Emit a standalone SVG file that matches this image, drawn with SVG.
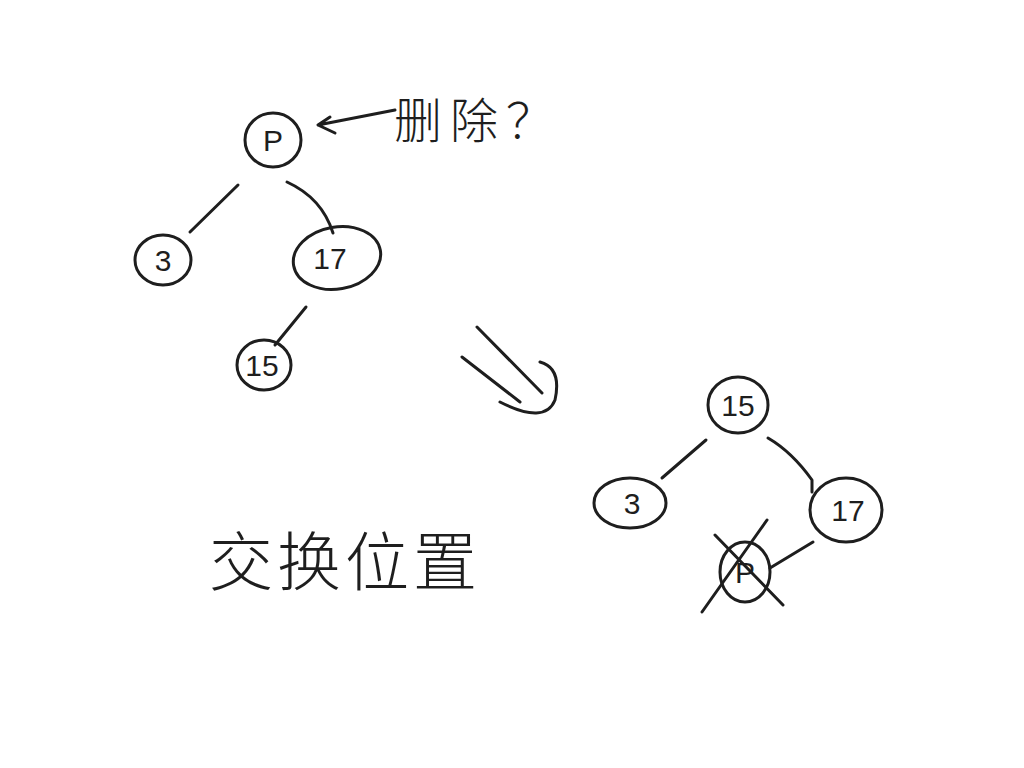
<svg xmlns="http://www.w3.org/2000/svg" width="1024" height="768" viewBox="0 0 1024 768">
<style>
.s{fill:none;stroke:#1e1e1e;stroke-width:3;stroke-linecap:round;stroke-linejoin:round}
.t{font-family:"Liberation Sans","Noto Sans CJK SC",sans-serif;fill:#1e1e1e;text-anchor:middle}
.n{font-size:30px;font-weight:300}
</style>
<rect width="1024" height="768" fill="#fff"/>
<g id="connectors">
<path class="s" d="M238,185 L190,232"/>
<path class="s" d="M287,182 Q322,198 333,233"/>
<path class="s" d="M306,307 L275,345"/>
<path class="s" d="M706,440 L662,478"/>
<path class="s" d="M768,438 Q792,452 812,480 L812,492"/>
<path class="s" d="M813,542 L770,568"/>
<path class="s" d="M395,110 L318,125 M330,117 L318,125 L335,133" stroke-width="2.5"/>
<path class="s" d="M477,327 L542,393 M462,357 L520,402 M540,362 Q562,368 555,400 Q545,425 500,402"/>
</g>
<g id="nodeP"><ellipse class="s" cx="273" cy="140" rx="28" ry="27"/><text class="t n" x="273" y="151">P</text></g>
<g id="node3a"><ellipse class="s" cx="163" cy="260" rx="28" ry="25"/><text class="t n" x="163" y="271">3</text></g>
<g id="node17a"><ellipse class="s" cx="337" cy="258" rx="44" ry="31" transform="rotate(-10 337 258)"/><text class="t n" x="330" y="269">17</text></g>
<g id="node15a"><ellipse class="s" cx="264" cy="365" rx="27" ry="25"/><text class="t n" x="262" y="376">15</text></g>
<g id="node15b"><ellipse class="s" cx="738" cy="405" rx="30" ry="28"/><text class="t n" x="738" y="416">15</text></g>
<g id="node3b"><ellipse class="s" cx="630" cy="503" rx="36" ry="25"/><text class="t n" x="632" y="514">3</text></g>
<g id="node17b"><ellipse class="s" cx="846" cy="510" rx="36" ry="32"/><text class="t n" x="848" y="521">17</text></g>
<g id="nodeX"><ellipse class="s" cx="745" cy="572" rx="25" ry="30"/><text class="t n" x="745" y="583">P</text>
<path class="s" d="M715,535 L783,605 M767,520 L702,612"/></g>
<text class="t" x="478" y="138" font-size="48" font-weight="300" letter-spacing="8">删除？</text>
<text class="t" x="345" y="585" font-size="64" font-weight="300" letter-spacing="4">交换位置</text>
</svg>
